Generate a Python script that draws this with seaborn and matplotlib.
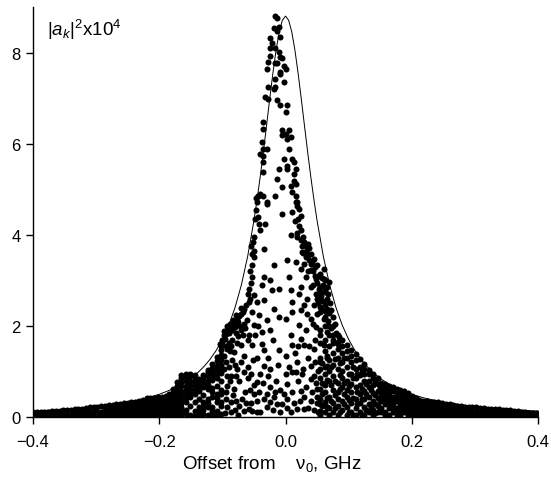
import numpy as np
import pandas as pd
import matplotlib
matplotlib.use("Agg")
import matplotlib.pyplot as plt
import seaborn as sns

# ---------------- data ----------------
# Lorentzian-like reference curve
line_x = [-0.40, -0.35, -0.30, -0.25, -0.22, -0.20, -0.18, -0.16, -0.15, -0.14, -0.13, -0.12,
          -0.11, -0.10, -0.09, -0.08, -0.07, -0.06, -0.05, -0.045, -0.04, -0.035, -0.03, -0.025,
          -0.02, -0.015, -0.01, -0.005, 0.0, 0.005, 0.01, 0.015, 0.02, 0.025, 0.03, 0.035, 0.04,
          0.045, 0.05, 0.06, 0.07, 0.08, 0.09, 0.10, 0.11, 0.12, 0.13, 0.14, 0.15, 0.16, 0.18,
          0.20, 0.22, 0.25, 0.30, 0.35, 0.40]
line_y = [0.130, 0.169, 0.229, 0.326, 0.416, 0.498, 0.607, 0.755, 0.849, 0.960, 1.095, 1.258,
          1.457, 1.704, 2.012, 2.400, 2.894, 3.521, 4.311, 4.774, 5.280, 5.827, 6.401, 6.983,
          7.543, 8.046, 8.448, 8.709, 8.800, 8.709, 8.448, 8.046, 7.543, 6.983, 6.401, 5.827, 5.280,
          4.774, 4.311, 3.521, 2.894, 2.400, 2.012, 1.704, 1.457, 1.258, 1.095, 0.960, 0.849, 0.755, 0.607,
          0.498, 0.416, 0.326, 0.229, 0.169, 0.130]

# scattered |a_k|^2 points, region by region
peak_pts = [(-0.016, 8.81), (-0.013, 8.75), (-0.019, 8.53), (-0.014, 8.48), (-0.011, 8.57), (-0.024, 8.31),
            (-0.008, 8.35), (-0.021, 8.20), (-0.025, 8.09), (-0.016, 8.09), (-0.011, 8.02), (-0.024, 7.93),
            (-0.008, 7.91), (-0.005, 7.87), (-0.027, 7.80), (-0.013, 7.76), (-0.016, 7.76), (-0.003, 7.71),
            (0.000, 7.65), (-0.029, 7.65), (-0.008, 7.58), (-0.008, 7.54), (-0.017, 7.43), (-0.003, 7.36),
            (-0.027, 7.25), (-0.016, 7.25), (-0.019, 7.21), (-0.032, 7.03), (-0.027, 6.99), (-0.013, 6.95),
            (-0.008, 6.84), (0.002, 6.84), (0.000, 6.70), (-0.035, 6.48), (-0.036, 6.33), (0.000, 6.22),
            (0.005, 6.29), (-0.005, 6.29), (-0.005, 6.18), (0.003, 6.11), (0.008, 6.15), (-0.038, 6.04),
            (-0.036, 5.89), (-0.030, 5.89), (-0.040, 5.78), (-0.036, 5.60), (-0.036, 5.72), (0.006, 5.89),
            (-0.003, 5.67), (0.011, 5.67), (0.013, 5.60), (0.003, 5.52), (0.003, 5.45), (0.016, 5.45),
            (-0.011, 5.45), (0.014, 5.34), (-0.035, 5.38), (-0.013, 5.23), (0.014, 5.19), (-0.005, 5.05),
            (0.008, 5.08), (0.016, 5.12), (-0.040, 4.90), (-0.016, 4.86), (0.011, 4.95), (0.016, 4.86),
            (-0.043, 4.86), (-0.035, 4.86), (-0.044, 4.85), (-0.046, 4.80), (-0.029, 4.73), (0.019, 4.73),
            (0.019, 4.64)]

mid_pts = [(-0.045, 4.72), (-0.029, 4.68), (-0.005, 4.46), (0.011, 4.50), (0.016, 4.72), (0.021, 4.57),
           (0.024, 4.42), (-0.048, 4.35), (-0.042, 4.24), (-0.032, 4.24), (-0.040, 4.10), (-0.050, 3.95),
           (0.008, 3.99), (0.018, 3.95), (0.024, 3.88), (0.029, 3.77), (0.034, 3.69), (0.040, 3.58),
           (0.026, 3.62), (0.032, 3.51), (-0.034, 3.69), (-0.053, 3.58), (-0.050, 3.51), (0.037, 3.44),
           (0.045, 3.47), (0.003, 3.44), (0.016, 3.40), (0.050, 3.33), (-0.018, 3.33), (0.024, 3.25),
           (-0.053, 3.33), (0.061, 3.25), (0.040, 3.22), (0.055, 3.14), (0.032, 3.07), (0.048, 3.03),
           (0.061, 3.03), (-0.053, 3.07), (-0.034, 3.07), (0.005, 3.07), (-0.024, 3.00), (0.069, 2.96),
           (0.066, 2.85), (0.040, 2.85), (0.024, 2.85), (-0.058, 2.81), (-0.037, 2.89), (-0.011, 2.81),
           (0.008, 2.78), (-0.021, 2.78), (0.055, 2.74), (0.021, 2.70), (0.034, 2.59), (-0.050, 2.67),
           (0.050, 2.59), (0.066, 2.59), (-0.058, 2.52), (-0.045, 2.52), (-0.066, 2.37), (-0.034, 2.56),
           (-0.018, 2.37), (0.011, 2.52), (0.029, 2.45), (0.045, 2.45), (0.055, 2.41), (0.066, 2.37),
           (-0.071, 2.26), (-0.053, 2.30), (-0.042, 2.23), (-0.011, 2.19), (0.024, 2.34), (0.034, 2.26),
           (0.050, 2.26), (0.011, 2.30), (-0.077, 2.15), (-0.082, 2.04), (-0.087, 1.97), (-0.092, 1.90),
           (-0.098, 1.79), (-0.061, 2.12), (-0.050, 2.01), (-0.029, 2.12), (0.000, 2.15), (0.040, 2.15),
           (0.061, 2.15), (0.021, 2.01), (0.032, 1.90), (0.048, 1.97), (-0.071, 1.90), (-0.037, 1.86),
           (-0.024, 1.90), (-0.058, 1.79), (0.055, 1.79), (0.066, 1.86), (0.008, 1.79), (0.024, 1.71),
           (-0.100, 1.64), (-0.092, 1.49), (-0.098, 1.35), (-0.071, 1.57), (-0.082, 1.42), (-0.053, 1.57),
           (-0.034, 1.46), (-0.011, 1.46), (0.011, 1.57), (0.029, 1.57), (0.045, 1.49), (0.061, 1.57),
           (0.066, 1.35), (-0.071, 1.20), (-0.077, 1.06), (-0.066, 0.98), (-0.055, 0.95), (-0.034, 1.13),
           (-0.024, 1.06), (0.000, 1.35), (0.018, 1.20), (0.040, 1.13), (0.055, 1.20), (0.066, 1.13),
           (-0.098, 1.06), (-0.087, 0.91), (-0.092, 0.69), (-0.082, 0.62), (-0.095, 0.40), (-0.087, 0.32),
           (-0.074, 0.80), (-0.045, 0.77), (-0.024, 0.65), (-0.016, 0.54), (0.003, 0.73), (0.011, 0.98),
           (0.016, 0.98), (0.026, 0.95), (0.040, 0.84), (0.050, 0.62), (0.061, 0.73), (0.024, 0.58),
           (-0.069, 0.40), (-0.058, 0.18), (-0.045, 0.36), (-0.034, 0.40), (-0.024, 0.32), (-0.013, 0.29),
           (-0.005, 0.29), (-0.066, 0.14), (-0.053, 0.14), (0.003, 0.40), (0.018, 0.18), (0.029, 0.18),
           (0.040, 0.36), (0.055, 0.29), (0.066, 0.21), (-0.087, 0.10),
           (-0.040, 0.10), (-0.030, 0.22), (0.008, 0.12), (0.030, 0.45), (-0.008, 0.60), (-0.045, 1.30),
           (0.035, 1.30), (0.020, 1.55), (-0.020, 1.70), (0.045, 0.90), (0.050, 0.45), (-0.050, 0.50),
           (-0.035, 0.75), (0.000, 0.95)]

center_low_pts = [(-0.055, 0.30), (-0.050, 0.70), (-0.045, 0.10), (-0.042, 0.55), (-0.040, 0.95),
                  (-0.038, 1.60), (-0.030, 0.50), (-0.028, 0.90), (-0.027, 1.30), (-0.020, 0.15),
                  (-0.018, 0.45), (-0.015, 0.80), (-0.012, 1.15), (-0.008, 0.10), (-0.003, 0.50),
                  (0.002, 0.20), (0.005, 1.10), (0.010, 0.55), (0.013, 0.30), (0.015, 1.40),
                  (0.020, 0.80), (0.023, 0.35), (0.028, 1.05), (0.033, 0.65), (0.035, 0.20),
                  (0.038, 1.55), (0.042, 0.55), (0.045, 0.15), (0.047, 1.20), (0.048, 0.75),
                  (0.050, 0.30), (0.052, 1.00), (0.052, 0.10), (0.047, 1.70), (0.044, 2.05),
                  (-0.060, 1.10), (-0.057, 0.60), (-0.052, 1.25), (-0.048, 1.80), (-0.043, 2.00)]

left_chain_pts = [(-0.047, 4.55), (-0.044, 4.40), (-0.052, 3.85), (-0.055, 3.75), (-0.050, 3.65),
                  (-0.056, 3.20), (-0.054, 2.95), (-0.060, 2.70), (-0.057, 2.60), (-0.062, 2.45),
                  (-0.068, 2.30), (-0.073, 2.22), (-0.076, 2.08), (-0.080, 1.98), (-0.085, 1.92),
                  (-0.089, 1.85), (-0.094, 1.82), (-0.096, 1.72), (-0.101, 1.70), (-0.104, 1.60),
                  (-0.066, 2.05), (-0.072, 2.00), (-0.078, 1.85), (-0.084, 1.70), (-0.090, 1.62),
                  (-0.095, 1.55), (-0.088, 1.45), (-0.095, 1.20), (-0.090, 1.10), (-0.085, 1.25),
                  (-0.080, 1.15), (-0.093, 0.90), (-0.088, 0.80), (-0.078, 0.90), (-0.095, 0.55),
                  (-0.083, 0.48), (-0.078, 0.35), (-0.092, 0.22), (-0.080, 0.15), (-0.073, 0.25),
                  (-0.096, 0.08), (-0.075, 0.05), (-0.062, 0.30), (-0.064, 0.55), (-0.060, 0.85),
                  (-0.066, 1.35), (-0.060, 1.70), (-0.077, 1.62), (-0.086, 1.55),
                  (-0.098, 1.88), (-0.093, 2.00), (-0.088, 2.05), (-0.083, 2.12), (-0.078, 2.25),
                  (-0.070, 2.40), (-0.075, 1.78), (-0.068, 1.80), (-0.064, 1.95)]

right_chain_pts = [(0.020, 4.35), (0.022, 4.20), (0.019, 4.05), (0.027, 3.95), (0.030, 3.85), (0.035, 3.80),
                   (0.033, 3.62), (0.038, 3.70), (0.042, 3.40), (0.047, 3.30), (0.044, 3.20), (0.052, 3.10),
                   (0.058, 3.05), (0.050, 2.95), (0.060, 2.90), (0.063, 2.78), (0.057, 2.65), (0.068, 2.70),
                   (0.070, 2.50), (0.062, 2.45), (0.072, 2.35), (0.058, 2.35), (0.075, 2.20), (0.068, 2.10),
                   (0.078, 2.05), (0.072, 1.95), (0.080, 1.85), (0.085, 1.75), (0.076, 1.70), (0.083, 1.60),
                   (0.025, 4.10), (0.028, 3.60), (0.036, 3.55), (0.040, 3.35), (0.046, 3.10), (0.053, 2.80),
                   (0.048, 2.70), (0.058, 2.55), (0.064, 2.30), (0.052, 2.50), (0.043, 2.90), (0.036, 3.20),
                   (0.030, 3.35), (0.026, 3.75), (0.015, 4.30)]

left_cluster_pts = [
    (-0.172, 0.05), (-0.172, 0.14), (-0.172, 0.23), (-0.172, 0.32), (-0.172, 0.41), (-0.172, 0.50), (-0.172, 0.59), (-0.172, 0.68), (-0.172, 0.77),
    (-0.165, 0.04), (-0.165, 0.13), (-0.165, 0.22), (-0.165, 0.31), (-0.165, 0.40), (-0.165, 0.49), (-0.165, 0.58), (-0.165, 0.67), (-0.165, 0.76), (-0.165, 0.85), (-0.165, 0.92),
    (-0.158, 0.06), (-0.158, 0.15), (-0.158, 0.33), (-0.158, 0.42), (-0.158, 0.51), (-0.158, 0.60), (-0.158, 0.69), (-0.158, 0.78), (-0.158, 0.87), (-0.158, 0.94),
    (-0.151, 0.04), (-0.151, 0.24), (-0.151, 0.44), (-0.151, 0.53), (-0.151, 0.62), (-0.151, 0.71), (-0.151, 0.80), (-0.151, 0.89), (-0.151, 0.94),
    (-0.144, 0.05), (-0.144, 0.14), (-0.144, 0.34), (-0.144, 0.50), (-0.144, 0.59), (-0.144, 0.68), (-0.144, 0.77), (-0.144, 0.86), (-0.144, 0.92),
    (-0.137, 0.04), (-0.137, 0.13), (-0.137, 0.22), (-0.137, 0.40), (-0.137, 0.58), (-0.137, 0.67), (-0.137, 0.76), (-0.137, 0.84),
    (-0.130, 0.06), (-0.130, 0.15), (-0.130, 0.24), (-0.130, 0.33), (-0.130, 0.48), (-0.130, 0.66), (-0.130, 0.75), (-0.130, 0.84), (-0.130, 0.92),
    (-0.123, 0.04), (-0.123, 0.22), (-0.123, 0.31), (-0.123, 0.40), (-0.123, 0.62), (-0.123, 0.71), (-0.123, 0.80), (-0.123, 0.89), (-0.123, 0.98), (-0.123, 1.04),
    (-0.116, 0.05), (-0.116, 0.14), (-0.116, 0.23), (-0.116, 0.45), (-0.116, 0.54), (-0.116, 0.63), (-0.116, 0.81), (-0.116, 0.90), (-0.116, 0.99), (-0.116, 1.08), (-0.116, 1.17),
    (-0.109, 0.04), (-0.109, 0.13), (-0.109, 0.32), (-0.109, 0.41), (-0.109, 0.50), (-0.109, 0.68), (-0.109, 0.86), (-0.109, 0.95), (-0.109, 1.04), (-0.109, 1.13), (-0.109, 1.22), (-0.109, 1.32),
    (-0.102, 0.06), (-0.102, 0.24), (-0.102, 0.33), (-0.102, 0.51), (-0.102, 0.60), (-0.102, 0.78), (-0.102, 0.96), (-0.102, 1.05), (-0.102, 1.14), (-0.102, 1.25), (-0.102, 1.36), (-0.102, 1.46), (-0.102, 1.55)]

right_cluster_pts = [
    (0.055, 0.05), (0.055, 0.14), (0.055, 0.40), (0.055, 0.62), (0.055, 0.85), (0.055, 1.05), (0.055, 1.30), (0.055, 1.62), (0.055, 1.90), (0.055, 2.30), (0.055, 2.60), (0.055, 2.85),
    (0.062, 0.10), (0.062, 0.32), (0.062, 0.55), (0.062, 0.70), (0.062, 0.95), (0.062, 1.10), (0.062, 1.45), (0.062, 1.70), (0.062, 2.00), (0.062, 2.20), (0.062, 2.55), (0.062, 2.75), (0.062, 3.00),
    (0.069, 0.05), (0.069, 0.20), (0.069, 0.45), (0.069, 0.80), (0.069, 1.00), (0.069, 1.25), (0.069, 1.55), (0.069, 1.80), (0.069, 2.00), (0.069, 2.28),
    (0.076, 0.12), (0.076, 0.30), (0.076, 0.60), (0.076, 0.90), (0.076, 1.15), (0.076, 1.40), (0.076, 1.62), (0.076, 1.80), (0.076, 2.00),
    (0.083, 0.05), (0.083, 0.25), (0.083, 0.40), (0.083, 0.55), (0.083, 0.75), (0.083, 1.05), (0.083, 1.30), (0.083, 1.50), (0.083, 1.65), (0.083, 1.80),
    (0.090, 0.15), (0.090, 0.35), (0.090, 0.65), (0.090, 0.85), (0.090, 1.00), (0.090, 1.20), (0.090, 1.40), (0.090, 1.55), (0.090, 1.68),
    (0.097, 0.05), (0.097, 0.22), (0.097, 0.45), (0.097, 0.60), (0.097, 0.80), (0.097, 1.10), (0.097, 1.30), (0.097, 1.45), (0.097, 1.58),
    (0.104, 0.12), (0.104, 0.30), (0.104, 0.55), (0.104, 0.72), (0.104, 0.95), (0.104, 1.20), (0.104, 1.35), (0.104, 1.48),
    (0.111, 0.05), (0.111, 0.20), (0.111, 0.40), (0.111, 0.65), (0.111, 0.85), (0.111, 1.05), (0.111, 1.25), (0.111, 1.38),
    (0.118, 0.12), (0.118, 0.30), (0.118, 0.50), (0.118, 0.70), (0.118, 0.92), (0.118, 1.10), (0.118, 1.28),
    (0.125, 0.04), (0.125, 0.22), (0.125, 0.40), (0.125, 0.58), (0.125, 0.80), (0.125, 0.95), (0.125, 1.05), (0.125, 1.16),
    (0.132, 0.10), (0.132, 0.28), (0.132, 0.45), (0.132, 0.65), (0.132, 0.80), (0.132, 0.95), (0.132, 1.04),
    (0.139, 0.04), (0.139, 0.16), (0.139, 0.35), (0.139, 0.52), (0.139, 0.70), (0.139, 0.85), (0.139, 0.94),
    (0.146, 0.10), (0.146, 0.25), (0.146, 0.42), (0.146, 0.58), (0.146, 0.72), (0.146, 0.86),
    (0.058, 0.25), (0.058, 0.50), (0.058, 0.75), (0.058, 1.18), (0.065, 0.22), (0.065, 0.42), (0.065, 0.82),
    (0.065, 1.30), (0.072, 0.35), (0.072, 0.70), (0.072, 1.10), (0.079, 0.20), (0.079, 0.48), (0.079, 0.78),
    (0.079, 1.28), (0.086, 0.10), (0.086, 0.62), (0.086, 0.92), (0.086, 1.18), (0.093, 0.28), (0.093, 0.50),
    (0.093, 0.75), (0.093, 1.30), (0.100, 0.12), (0.100, 0.38), (0.100, 0.68), (0.100, 0.95), (0.107, 0.05),
    (0.107, 0.42), (0.107, 0.85), (0.107, 1.10), (0.114, 0.28), (0.114, 0.55), (0.114, 0.95), (0.121, 0.05),
    (0.121, 0.40), (0.121, 0.62), (0.121, 1.00), (0.128, 0.15), (0.128, 0.50), (0.128, 0.72), (0.135, 0.22),
    (0.135, 0.60), (0.142, 0.08), (0.142, 0.28), (0.142, 0.48), (0.142, 0.80), (0.149, 0.18), (0.149, 0.35),
    (0.149, 0.65)]

left_band_pts = [
    (-0.400, 0.04), (-0.400, 0.12), (-0.394, 0.04), (-0.394, 0.12), (-0.388, 0.04), (-0.388, 0.12),
    (-0.382, 0.04), (-0.382, 0.12), (-0.376, 0.04), (-0.376, 0.12), (-0.370, 0.04), (-0.370, 0.13),
    (-0.364, 0.04), (-0.364, 0.14), (-0.358, 0.04), (-0.358, 0.14), (-0.352, 0.04), (-0.352, 0.15),
    (-0.346, 0.04), (-0.346, 0.16), (-0.340, 0.04), (-0.340, 0.16),
    (-0.334, 0.04), (-0.334, 0.11), (-0.334, 0.17), (-0.328, 0.04), (-0.328, 0.11), (-0.328, 0.18),
    (-0.322, 0.04), (-0.322, 0.11), (-0.322, 0.18), (-0.316, 0.04), (-0.316, 0.11), (-0.316, 0.19),
    (-0.310, 0.04), (-0.310, 0.12), (-0.310, 0.21), (-0.304, 0.04), (-0.304, 0.12), (-0.304, 0.22),
    (-0.298, 0.04), (-0.298, 0.12), (-0.298, 0.23), (-0.292, 0.04), (-0.292, 0.12), (-0.292, 0.24),
    (-0.286, 0.04), (-0.286, 0.12), (-0.286, 0.20), (-0.286, 0.25), (-0.280, 0.04), (-0.280, 0.12), (-0.280, 0.20), (-0.280, 0.26),
    (-0.274, 0.04), (-0.274, 0.12), (-0.274, 0.20), (-0.274, 0.27), (-0.268, 0.04), (-0.268, 0.12), (-0.268, 0.20), (-0.268, 0.28),
    (-0.262, 0.05), (-0.262, 0.13), (-0.262, 0.21), (-0.262, 0.29), (-0.256, 0.04), (-0.256, 0.12), (-0.256, 0.20), (-0.256, 0.30),
    (-0.250, 0.06), (-0.250, 0.13), (-0.250, 0.21), (-0.250, 0.31), (-0.244, 0.04), (-0.244, 0.12), (-0.244, 0.22), (-0.244, 0.32),
    (-0.238, 0.06), (-0.238, 0.14), (-0.238, 0.22), (-0.238, 0.30), (-0.238, 0.33),
    (-0.232, 0.04), (-0.232, 0.12), (-0.232, 0.20), (-0.232, 0.28), (-0.232, 0.35),
    (-0.226, 0.06), (-0.226, 0.14), (-0.226, 0.22), (-0.226, 0.30), (-0.226, 0.38),
    (-0.220, 0.04), (-0.220, 0.12), (-0.220, 0.20), (-0.220, 0.28), (-0.220, 0.36), (-0.220, 0.41),
    (-0.214, 0.06), (-0.214, 0.14), (-0.214, 0.22), (-0.214, 0.30), (-0.214, 0.38), (-0.214, 0.42),
    (-0.208, 0.04), (-0.208, 0.12), (-0.208, 0.20), (-0.208, 0.28), (-0.208, 0.36), (-0.208, 0.42),
    (-0.202, 0.06), (-0.202, 0.14), (-0.202, 0.22), (-0.202, 0.30), (-0.202, 0.38), (-0.202, 0.44),
    (-0.196, 0.04), (-0.196, 0.12), (-0.196, 0.20), (-0.196, 0.28), (-0.196, 0.36), (-0.196, 0.45),
    (-0.190, 0.06), (-0.190, 0.14), (-0.190, 0.22), (-0.190, 0.30), (-0.190, 0.38), (-0.190, 0.47),
    (-0.184, 0.04), (-0.184, 0.12), (-0.184, 0.20), (-0.184, 0.28), (-0.184, 0.36), (-0.184, 0.44), (-0.184, 0.51),
    (-0.178, 0.06), (-0.178, 0.14), (-0.178, 0.22), (-0.178, 0.30), (-0.178, 0.38), (-0.178, 0.46), (-0.178, 0.54), (-0.178, 0.62)]

right_band_pts = [
    (0.152, 0.12), (0.152, 0.20), (0.152, 0.36), (0.152, 0.44), (0.152, 0.52), (0.152, 0.60), (0.152, 0.68), (0.152, 0.75),
    (0.158, 0.04), (0.158, 0.12), (0.158, 0.28), (0.158, 0.36), (0.158, 0.44), (0.158, 0.52), (0.158, 0.64), (0.158, 0.72),
    (0.164, 0.04), (0.164, 0.20), (0.164, 0.28), (0.164, 0.36), (0.164, 0.44), (0.164, 0.52), (0.164, 0.60), (0.164, 0.68),
    (0.170, 0.12), (0.170, 0.20), (0.170, 0.28), (0.170, 0.36), (0.170, 0.44), (0.170, 0.56), (0.170, 0.65),
    (0.176, 0.04), (0.176, 0.12), (0.176, 0.20), (0.176, 0.36), (0.176, 0.44), (0.176, 0.52), (0.176, 0.62),
    (0.182, 0.04), (0.182, 0.12), (0.182, 0.20), (0.182, 0.28), (0.182, 0.36), (0.182, 0.44), (0.182, 0.52), (0.182, 0.60),
    (0.188, 0.12), (0.188, 0.20), (0.188, 0.28), (0.188, 0.36), (0.188, 0.44), (0.188, 0.52), (0.188, 0.58),
    (0.194, 0.04), (0.194, 0.12), (0.194, 0.20), (0.194, 0.28), (0.194, 0.36), (0.194, 0.44), (0.194, 0.52),
    (0.200, 0.04), (0.200, 0.12), (0.200, 0.20), (0.200, 0.28), (0.200, 0.38), (0.200, 0.46),
    (0.206, 0.04), (0.206, 0.12), (0.206, 0.20), (0.206, 0.28), (0.206, 0.35), (0.206, 0.42),
    (0.212, 0.04), (0.212, 0.12), (0.212, 0.20), (0.212, 0.28), (0.212, 0.38),
    (0.218, 0.04), (0.218, 0.12), (0.218, 0.20), (0.218, 0.28), (0.218, 0.36),
    (0.224, 0.04), (0.224, 0.12), (0.224, 0.20), (0.224, 0.28), (0.224, 0.35),
    (0.230, 0.04), (0.230, 0.12), (0.230, 0.20), (0.230, 0.27), (0.230, 0.34),
    (0.236, 0.04), (0.236, 0.12), (0.236, 0.20), (0.236, 0.27), (0.236, 0.34),
    (0.242, 0.04), (0.242, 0.12), (0.242, 0.20), (0.242, 0.26), (0.242, 0.32),
    (0.248, 0.04), (0.248, 0.12), (0.248, 0.20), (0.248, 0.31),
    (0.254, 0.04), (0.254, 0.12), (0.254, 0.20), (0.254, 0.29),
    (0.260, 0.04), (0.260, 0.12), (0.260, 0.20), (0.260, 0.28),
    (0.266, 0.04), (0.266, 0.12), (0.266, 0.19), (0.266, 0.26),
    (0.272, 0.04), (0.272, 0.12), (0.272, 0.19), (0.272, 0.25),
    (0.278, 0.04), (0.278, 0.12), (0.278, 0.18), (0.278, 0.24),
    (0.284, 0.04), (0.284, 0.12), (0.284, 0.18), (0.284, 0.23),
    (0.290, 0.04), (0.290, 0.12), (0.290, 0.18), (0.290, 0.23),
    (0.296, 0.04), (0.296, 0.12), (0.296, 0.22), (0.302, 0.04), (0.302, 0.12), (0.302, 0.21),
    (0.308, 0.04), (0.308, 0.12), (0.308, 0.20), (0.314, 0.04), (0.314, 0.12), (0.314, 0.19),
    (0.320, 0.04), (0.320, 0.11), (0.320, 0.18), (0.326, 0.04), (0.326, 0.11), (0.326, 0.18),
    (0.332, 0.04), (0.332, 0.11), (0.332, 0.17), (0.338, 0.04), (0.338, 0.11), (0.338, 0.17),
    (0.344, 0.04), (0.344, 0.10), (0.344, 0.16), (0.350, 0.04), (0.350, 0.10), (0.350, 0.15),
    (0.356, 0.04), (0.356, 0.10), (0.356, 0.15), (0.362, 0.04), (0.362, 0.09), (0.362, 0.14),
    (0.368, 0.04), (0.368, 0.13), (0.374, 0.04), (0.374, 0.12), (0.380, 0.04), (0.380, 0.10),
    (0.386, 0.04), (0.386, 0.09), (0.392, 0.04), (0.392, 0.09), (0.398, 0.04), (0.398, 0.09)]

x_ticks = [-0.4, -0.2, 0.0, 0.2, 0.4]
x_ticklabels = ["\u22120.4", "\u22120.2", "0.0", "0.2", "0.4"]
y_ticks = [0, 2, 4, 6, 8]
y_ticklabels = ["0", "2", "4", "6", "8"]

# ---------------- plotting ----------------
sns.set_theme(style="ticks")
plt.rcParams['font.family'] = ['Liberation Sans', 'DejaVu Sans']
plt.rcParams['mathtext.fontset'] = 'custom'
plt.rcParams['mathtext.rm'] = 'Liberation Sans'
plt.rcParams['mathtext.it'] = 'Liberation Sans:italic'
plt.rcParams['mathtext.bf'] = 'Liberation Sans:bold'

fig = plt.figure(figsize=(5.51, 4.81), dpi=100)
ax = fig.add_axes([33 / 551, 63 / 481, 505 / 551, 410 / 481])

all_pts = (left_band_pts + left_cluster_pts + left_chain_pts + mid_pts + center_low_pts
           + peak_pts + right_chain_pts + right_cluster_pts + right_band_pts)
df = pd.DataFrame(all_pts, columns=["offset", "ak2"])

sns.scatterplot(data=df, x="offset", y="ak2", s=19, color="black", linewidth=0,
                ax=ax, legend=False, zorder=2)
sns.lineplot(x=line_x, y=line_y, color="black", linewidth=0.7, ax=ax,
             estimator=None, sort=False, zorder=3)

ax.set_xlim(-0.4, 0.4)
ax.set_ylim(0, 9.0)
ax.set_xticks(x_ticks)
ax.set_xticklabels(x_ticklabels)
ax.set_yticks(y_ticks)
ax.set_yticklabels(y_ticklabels)
ax.tick_params(axis="both", direction="out", length=5, width=1, labelsize=12, colors="black")
ax.tick_params(axis="x", pad=7)
ax.tick_params(axis="y", pad=4)
sns.despine(ax=ax)
for sp in ("left", "bottom"):
    ax.spines[sp].set_color("black")
    ax.spines[sp].set_linewidth(1.0)

ax.set_xlabel("Offset from    \u03bd$_0$, GHz", fontsize=13.5, color="black")
ax.xaxis.set_label_coords(0.474, -0.112)
ax.xaxis.label.set_va("center")
ax.set_ylabel("")
ax.text(0.028, 0.975, "|$a_k$|$^2$x10$^4$", transform=ax.transAxes,
        ha="left", va="top", fontsize=13.5, color="black")

fig.savefig("out.png", dpi=100)
